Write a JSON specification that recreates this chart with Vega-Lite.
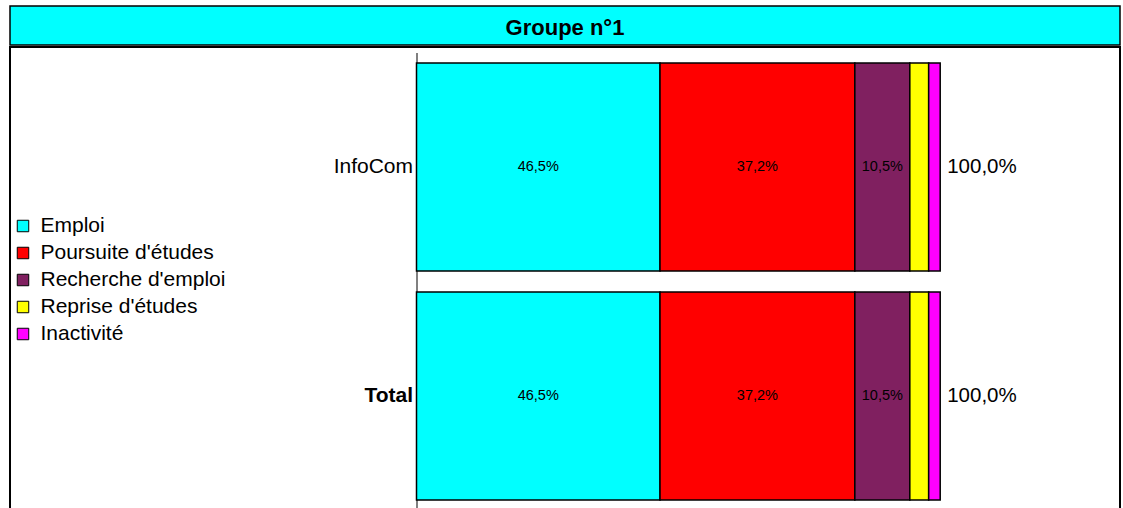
{
  "$schema": "https://vega.github.io/schema/vega-lite/v6.json",
  "padding": {"left": 9, "top": 5, "right": 0, "bottom": 0},
  "spacing": 0,
  "background": "white",
  "config": {
    "font": "Liberation Sans",
    "locale": {"number": {"decimal": ",", "thousands": " ", "grouping": [3], "currency": ["", " €"]}}
  },
  "datasets": {
    "parts": [
      {"cat": "InfoCom", "status": "Emploi", "ord": 1, "pct": 0.465},
      {"cat": "InfoCom", "status": "Poursuite d'études", "ord": 2, "pct": 0.372},
      {"cat": "InfoCom", "status": "Recherche d'emploi", "ord": 3, "pct": 0.105},
      {"cat": "InfoCom", "status": "Reprise d'études", "ord": 4, "pct": 0.036},
      {"cat": "InfoCom", "status": "Inactivité", "ord": 5, "pct": 0.022},
      {"cat": "Total", "status": "Emploi", "ord": 1, "pct": 0.465},
      {"cat": "Total", "status": "Poursuite d'études", "ord": 2, "pct": 0.372},
      {"cat": "Total", "status": "Recherche d'emploi", "ord": 3, "pct": 0.105},
      {"cat": "Total", "status": "Reprise d'études", "ord": 4, "pct": 0.036},
      {"cat": "Total", "status": "Inactivité", "ord": 5, "pct": 0.022}
    ],
    "totals": [
      {"cat": "InfoCom", "total": 1.0},
      {"cat": "Total", "total": 1.0}
    ]
  },
  "vconcat": [
    {
      "width": 1110,
      "height": 39,
      "view": {"fill": "#00FFFF", "stroke": "black", "strokeWidth": 1.5},
      "data": {"values": [{"t": "Groupe n°1"}]},
      "mark": {"type": "text", "fontSize": 22, "fontWeight": "bold", "font": "Liberation Sans", "baseline": "middle", "dy": 2, "color": "black"},
      "encoding": {"text": {"field": "t", "type": "nominal"}}
    },
    {
      "width": 1110,
      "height": 470,
      "view": {"fill": "white", "stroke": "black", "strokeWidth": 2},
      "layer": [
        {
          "data": {"name": "parts"},
          "mark": {"type": "bar", "stroke": "black", "strokeWidth": 1.5},
          "encoding": {
            "y": {
              "field": "cat", "type": "nominal",
              "scale": {"domain": ["InfoCom", "Total"], "range": [5.5, 463.5], "paddingInner": 0.0917, "paddingOuter": 0.0459},
              "axis": {
                "title": null, "offset": -406.5, "domainColor": "#808080", "domainWidth": 2,
                "ticks": false, "tickSize": 0, "labelPadding": 4, "labelFontSize": 21, "labelColor": "black",
                "labelFont": "Liberation Sans", "labelAlign": "right", "grid": false,
                "labelFontWeight": {"condition": {"test": "datum.value === 'Total'", "value": "bold"}, "value": "normal"}
              }
            },
            "x": {
              "field": "pct", "type": "quantitative", "stack": "zero",
              "scale": {"domain": [0, 1], "range": [406.5, 930.2], "nice": false, "zero": true},
              "axis": null
            },
            "color": {
              "field": "status", "type": "nominal",
              "scale": {
                "domain": ["Emploi", "Poursuite d'études", "Recherche d'emploi", "Reprise d'études", "Inactivité"],
                "range": ["#00FFFF", "#FF0000", "#802060", "#FFFF00", "#FF00FF"]
              },
              "legend": {
                "orient": "none", "legendX": 2.5, "legendY": 209.5, "title": null,
                "symbolType": "square", "symbolSize": 132, "symbolStrokeColor": "black", "symbolStrokeWidth": 1,
                "labelFontSize": 21, "labelFont": "Liberation Sans", "labelColor": "black", "labelOffset": 7,
                "labelLimit": 400, "rowPadding": 5, "padding": 0
              }
            },
            "order": {"field": "ord", "type": "quantitative"}
          }
        },
        {
          "data": {"name": "parts"},
          "transform": [{"filter": "datum.pct >= 0.05"}],
          "mark": {"type": "text", "fontSize": 14.5, "font": "Liberation Sans", "color": "black", "baseline": "middle"},
          "encoding": {
            "y": {"field": "cat", "type": "nominal"},
            "x": {"field": "pct", "type": "quantitative", "stack": "zero", "bandPosition": 0.5},
            "order": {"field": "ord", "type": "quantitative"},
            "text": {"field": "pct", "type": "quantitative", "format": ".1%"}
          }
        },
        {
          "data": {"name": "totals"},
          "mark": {"type": "text", "fontSize": 20.5, "font": "Liberation Sans", "color": "black", "align": "left", "baseline": "middle", "dx": 7},
          "encoding": {
            "y": {"field": "cat", "type": "nominal"},
            "x": {"field": "total", "type": "quantitative"},
            "text": {"field": "total", "type": "quantitative", "format": ".1%"}
          }
        }
      ]
    }
  ]
}
